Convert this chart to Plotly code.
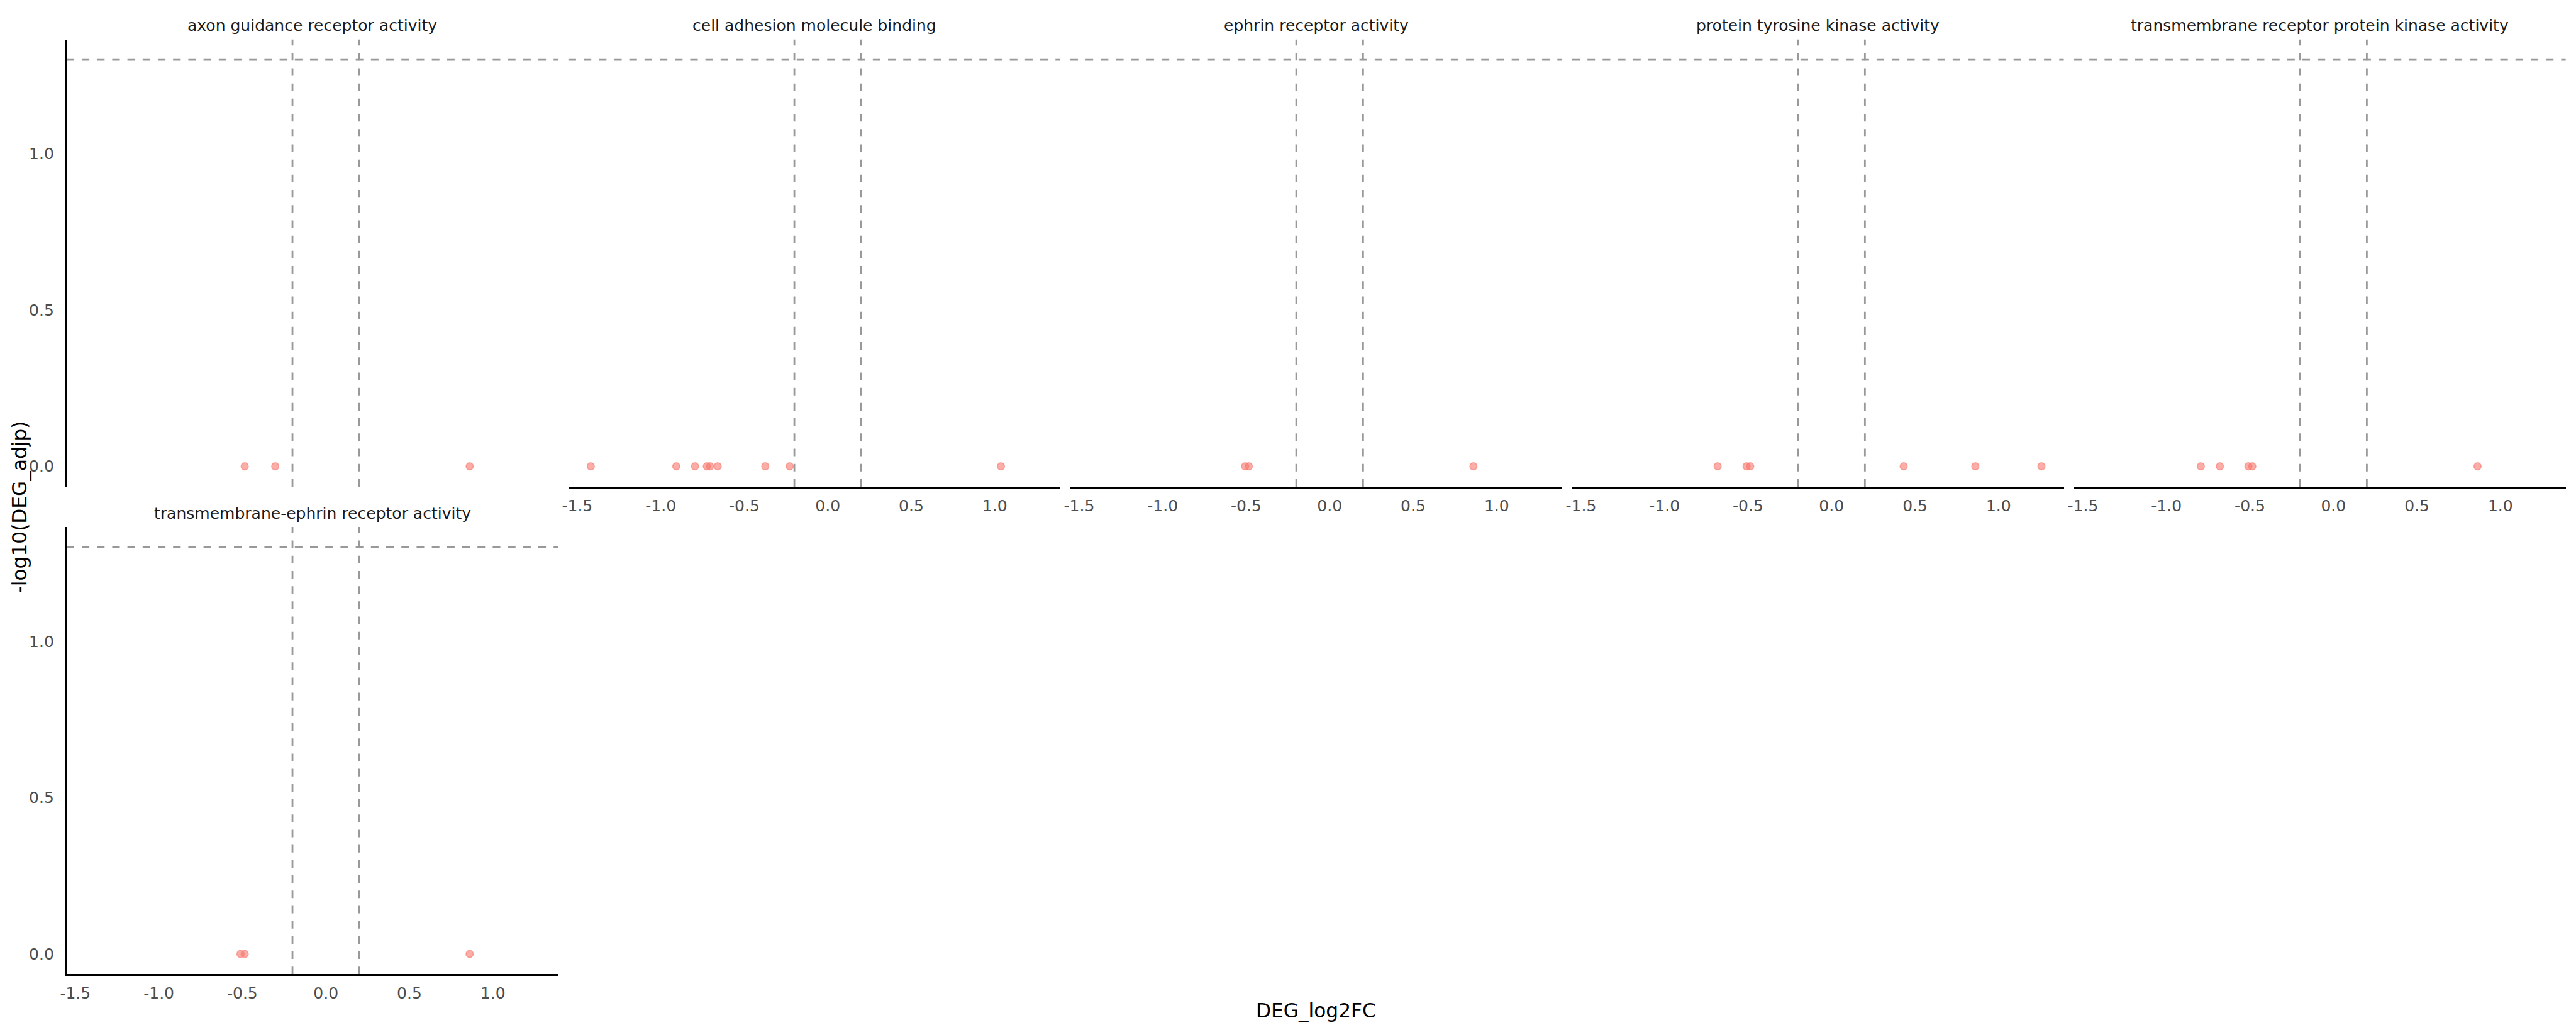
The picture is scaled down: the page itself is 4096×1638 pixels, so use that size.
import math
import plotly.graph_objects as go

# ---------------- data ----------------
facets = [
    "axon guidance receptor activity",
    "cell adhesion molecule binding",
    "ephrin receptor activity",
    "protein tyrosine kinase activity",
    "transmembrane receptor protein kinase activity",
    "transmembrane-ephrin receptor activity",
]
log2fc = [
    [-0.486, -0.303, 0.861],
    [-1.419, -0.907, -0.795, -0.724, -0.705, -0.659, -0.374, -0.228, 1.037],
    [-0.506, -0.484, 0.861],
    [-0.682, -0.509, -0.487, 0.432, 0.861, 1.257],
    [-0.794, -0.680, -0.509, -0.486, 0.863],
    [-0.511, -0.486, 0.861],
]
neglog10_adjp = [
    [0.0, 0.0, 0.0],
    [0.0, 0.0, 0.0, 0.0, 0.0, 0.0, 0.0, 0.0, 0.0],
    [0.0, 0.0, 0.0],
    [0.0, 0.0, 0.0, 0.0, 0.0, 0.0],
    [0.0, 0.0, 0.0, 0.0, 0.0],
    [0.0, 0.0, 0.0],
]
fc_cut = 0.2
p_cut = 0.05
x_tick_vals = [-1.5, -1.0, -0.5, 0.0, 0.5, 1.0]
x_tick_text = ["-1.5", "-1.0", "-0.5", "0.0", "0.5", "1.0"]
y_tick_vals = [0.0, 0.5, 1.0]
y_tick_text = ["0.0", "0.5", "1.0"]
x_title = "DEG_log2FC"
y_title = "-log10(DEG_adjp)"

# ---------------- scales (ggplot-like expansion) ----------------
thr = -math.log10(p_cut)
all_x = [v for s in log2fc for v in s] + [-fc_cut, fc_cut]
xmin, xmax = min(all_x), max(all_x)
xpad = 0.05 * (xmax - xmin)
x_range = [xmin - xpad, xmax + xpad]
all_y = [v for s in neglog10_adjp for v in s] + [thr]
ymin, ymax = min(all_y), max(all_y)
ypad = 0.05 * (ymax - ymin)
y_range = [ymin - ypad, ymax + ypad]

# ---------------- geometry ----------------
S = 0.682
W, H = 4096, 1638
REF_W, REF_H = 6000, 2400
ncol = 5
col_left0, col_pitch, col_w = 155, 1169, 1145
row_tops = [92, 1228]
row_h = 1042

FONT = "DejaVu Sans"
fs_small = 36.7 * S
fs_title = 45.8 * S
LW = 2.8
point_col = "rgba(248,118,109,0.6)"
dash_col = "#999999"

fig = go.Figure()
annotations = []
shapes = []

for i, name in enumerate(facets):
    row, col = divmod(i, ncol)
    left = (col_left0 + col * col_pitch) / REF_W
    right = (col_left0 + col * col_pitch + col_w) / REF_W
    top = 1 - row_tops[row] / REF_H
    bottom = 1 - (row_tops[row] + row_h) / REF_H
    k = "" if i == 0 else str(i + 1)
    xa, ya = "x" + k, "y" + k

    # is there a panel below this one?
    below = (row + 1) * ncol + col < len(facets)
    show_x = not below
    show_y = col == 0

    fig.add_trace(go.Scatter(
        x=log2fc[i], y=neglog10_adjp[i], mode="markers",
        xaxis=xa, yaxis=ya, showlegend=False,
        marker=dict(size=11.5, color=point_col,
                    line=dict(color=point_col, width=1.6)),
        cliponaxis=False,
    ))

    fig.update_layout(**{
        "xaxis" + k: dict(
            domain=[left, right], anchor=ya, range=x_range,
            showgrid=False, zeroline=False, automargin=False,
            showline=show_x, linecolor="black", linewidth=LW,
            tickvals=x_tick_vals, ticktext=x_tick_text,
            showticklabels=show_x, ticks="",
            tickfont=dict(family=FONT, size=fs_small, color="#4D4D4D"),
            ticklabelstandoff=6,
        ),
        "yaxis" + k: dict(
            domain=[bottom, top], anchor=xa, range=y_range,
            showgrid=False, zeroline=False, automargin=False,
            showline=show_y, linecolor="black", linewidth=LW,
            tickvals=y_tick_vals, ticktext=y_tick_text,
            showticklabels=show_y, ticks="",
            tickfont=dict(family=FONT, size=fs_small, color="#4D4D4D"),
            ticklabelstandoff=12,
        ),
    })

    # threshold lines
    for v in (-fc_cut, fc_cut):
        shapes.append(dict(type="line", xref=xa, yref=ya + " domain",
                           x0=v, x1=v, y0=0, y1=1, layer="below",
                           line=dict(color=dash_col, width=LW, dash="12.1px,12.1px")))
    shapes.append(dict(type="line", xref=xa + " domain", yref=ya,
                       x0=0, x1=1, y0=thr, y1=thr, layer="below",
                       line=dict(color=dash_col, width=LW, dash="12.1px,12.1px")))

    # strip label
    strip_center = row_tops[row] - 32
    annotations.append(dict(
        text=name, xref="paper", yref="paper",
        x=(left + right) / 2, y=1 - strip_center / REF_H,
        xanchor="center", yanchor="middle", showarrow=False,
        font=dict(family=FONT, size=fs_small, color="#1A1A1A"),
    ))

# axis titles
panels_left = col_left0 / REF_W
panels_right = (col_left0 + (ncol - 1) * col_pitch + col_w) / REF_W
annotations.append(dict(
    text=x_title, xref="paper", yref="paper",
    x=(panels_left + panels_right) / 2, y=1 - 2355 / REF_H,
    xanchor="center", yanchor="middle", showarrow=False,
    font=dict(family=FONT, size=fs_title, color="black"),
))
annotations.append(dict(
    text=y_title, xref="paper", yref="paper",
    x=46 / REF_W, y=1 - ((row_tops[0] + row_tops[1] + row_h) / 2) / REF_H,
    xanchor="center", yanchor="middle", showarrow=False, textangle=-90,
    font=dict(family=FONT, size=fs_title, color="black"),
))

fig.update_layout(
    template="none",
    width=W, height=H,
    margin=dict(l=0, r=0, t=0, b=0, pad=0, autoexpand=False),
    paper_bgcolor="white", plot_bgcolor="white",
    annotations=annotations, shapes=shapes,
    font=dict(family=FONT, color="black"),
    showlegend=False,
)

fig.write_html("out.html")
